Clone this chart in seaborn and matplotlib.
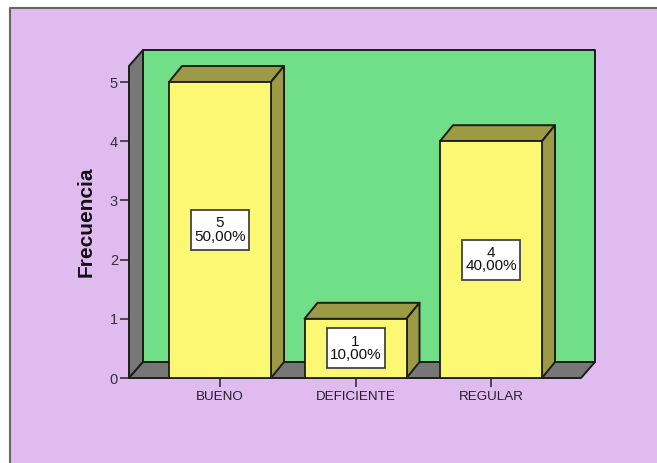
import matplotlib
matplotlib.use("Agg")
import matplotlib.pyplot as plt
from matplotlib.lines import Line2D
from matplotlib.patches import Polygon, Rectangle
import seaborn as sns
import pandas as pd

categories = ["BUENO", "DEFICIENTE", "REGULAR"]
counts = [5, 1, 4]
percents = ["50,00%", "10,00%", "40,00%"]

W, H = 657, 463
PURPLE = "#DFBBF0"; GREEN = "#70DF88"; YELLOW = "#FDF873"
OLIVE = "#9C9A45"; GRAY = "#777777"; DARK = "#1c1c1c"

sns.set_theme(style="white")
plt.rcParams["font.family"] = ["Liberation Sans", "DejaVu Sans"]

fig = plt.figure(figsize=(W / 100, H / 100), dpi=100, facecolor="white")
fig.add_artist(Rectangle((9.5 / W, 0), 1, 1 - 8 / H, transform=fig.transFigure,
                         facecolor=PURPLE, edgecolor="none", zorder=-5))
frame_x = [9.5 / W, 9.5 / W, 1]
frame_y = [0, 1 - 8 / H, 1 - 8 / H]
fig.add_artist(Line2D(frame_x, frame_y, transform=fig.transFigure, color="#666666",
                      linewidth=1.5, zorder=-4))

L, R, T, B = 129, 581, 66, 378
ax = fig.add_axes([L / W, 1 - B / H, (R - L) / W, (B - T) / H])
ax.patch.set_alpha(0)

px_x = 135.5
px_y = 59.2
ax.set_xlim(-(220 - L) / px_x, (R - 220) / px_x)
ax.set_ylim(0, (B - T) / px_y)
dx = 14 / px_x
dy = 16 / px_y
bx = 13 / px_x

df = pd.DataFrame({"categoria": categories, "Frecuencia": counts})
sns.barplot(data=df, x="categoria", y="Frecuencia", color=YELLOW, saturation=1,
            width=102 / px_x, edgecolor=DARK, linewidth=1.3, ax=ax, zorder=4)
ax.set_xlim(-(220 - L) / px_x, (R - 220) / px_x)

x0, x1 = ax.get_xlim()
y1 = ax.get_ylim()[1]
def poly(pts, color, z):
    ax.add_patch(Polygon(pts, closed=True, facecolor=color, edgecolor=DARK,
                         linewidth=1.4, joinstyle="round", clip_on=False, zorder=z))

poly([(x0 + dx, dy), (x1 + dx, dy), (x1 + dx, y1 + dy), (x0 + dx, y1 + dy)], GREEN, 1)
poly([(x0, 0), (x0 + dx, dy), (x0 + dx, y1 + dy), (x0, y1)], GRAY, 2)
poly([(x0, 0), (x1, 0), (x1 + dx, dy), (x0 + dx, dy)], GRAY, 2)

box_w = 58 / px_x
box_h = 40 / px_y
for bar, n, pct in zip(ax.patches[:len(counts)], counts, percents):
    a = bar.get_x()
    b = a + bar.get_width()
    h = bar.get_height()
    poly([(a, h), (b, h), (b + bx, h + dy), (a + bx, h + dy)], OLIVE, 3)
    poly([(b, 0), (b + bx, dy), (b + bx, h + dy), (b, h)], OLIVE, 3)
    cx = (a + b) / 2
    cy = h / 2
    ax.add_patch(Rectangle((cx - box_w / 2, cy - box_h / 2), box_w, box_h, facecolor="white",
                           edgecolor="#444444", linewidth=1.3, zorder=5))
    ax.text(cx, cy, f"{n}\n{pct}", ha="center", va="center", fontsize=11,
            color="#111111", linespacing=0.95, zorder=6)

ax.set_yticks(range(0, 6))
ax.set_xticks(range(3))
ax.set_xticklabels(categories)
ax.tick_params(axis="x", length=6.5, width=1.2, color="#333333", labelcolor="#222222",
               labelsize=9.6, pad=3, bottom=True)
ax.tick_params(axis="y", length=6.5, width=1.2, color="#333333", labelcolor="#333333",
               labelsize=10.5, pad=1.5, left=True)
ax.set_xlabel("")
ax.set_ylabel("Frecuencia", fontsize=15, fontweight="bold", color="#111111")
ax.yaxis.set_label_coords((96 - L) / (R - L), 0.5)
for s in ax.spines.values():
    s.set_visible(False)

fig.savefig("out.png", dpi=100, facecolor="white")
